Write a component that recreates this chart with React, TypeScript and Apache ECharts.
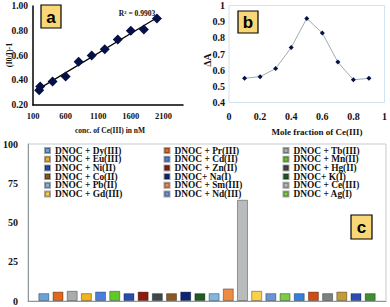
import React, { useEffect, useRef } from "react";
import * as echarts from "echarts";

// Panel a: calibration
const concNM = [195, 210, 400, 600, 800, 1000, 1200, 1400, 1600, 1800, 2000];
const intensityRatio = [0.32, 0.35, 0.39, 0.43, 0.55, 0.6, 0.65, 0.73, 0.8, 0.81, 0.9];
const rSquaredLabel = "R² = 0.9903";

// Panel b: Job's plot
const moleFraction = [0.1, 0.2, 0.3, 0.4, 0.5, 0.6, 0.7, 0.8, 0.9];
const deltaA = [0.55, 0.56, 0.61, 0.74, 0.92, 0.83, 0.65, 0.54, 0.55];

// Panel c: selectivity
const complexNames = [
  "DNOC + Dy(III)", "DNOC + Pr(III)", "DNOC + Tb(III)",
  "DNOC + Eu(III)", "DNOC + Cd(II)", "DNOC + Mn(II)",
  "DNOC + Ni(II)", "DNOC + Zn(II)", "DNOC + Hg(II)",
  "DNOC + Co(II)", "DNOC+ Na(I)", "DNOC+ K(I)",
  "DNOC + Pb(II)", "DNOC + Sm(III)", "DNOC + Ce(III)",
  "DNOC + Gd(III)", "DNOC + Nd(III)", "DNOC + Ag(I)",
];
const response = [5, 6, 6.5, 5, 6, 6.5, 5, 6, 5, 5, 6, 5, 5, 8, 64.5, 6.5, 5, 5, 5, 6, 5, 6, 5, 5];
const barColors = [
  "#67a3da", "#e2661e", "#a8acac", "#f0b41c", "#4a7fdc", "#62c828",
  "#2a4cb0", "#8e1c0c", "#404848", "#8a5a20", "#0e2474", "#1e5c22",
  "#80b6e6", "#ee8a42", "#b8bcbc", "#f8d04a", "#6a94d6", "#7ccc44",
  "#3280dc", "#d04a12", "#7a8282", "#c29a36", "#2c4cb4", "#3c9030",
];

const SERIF = "Liberation Serif, Times New Roman, serif";
const SANS = "Liberation Sans, Arial, sans-serif";

function fitLine(xs: number[], ys: number[]) {
  const n = xs.length;
  const mx = xs.reduce((a, b) => a + b, 0) / n;
  const my = ys.reduce((a, b) => a + b, 0) / n;
  let sxy = 0, sxx = 0;
  for (let i = 0; i < n; i++) {
    sxy += (xs[i] - mx) * (ys[i] - my);
    sxx += (xs[i] - mx) * (xs[i] - mx);
  }
  const k = sxy / sxx;
  const b = my - k * mx;
  const x0 = Math.min(...xs), x1 = Math.max(...xs);
  return [[x0, k * x0 + b], [x1, k * x1 + b]];
}

function letterBox(x: number, y: number, w: number, h: number, t: string) {
  return {
    type: "group",
    x, y,
    children: [
      { type: "rect", shape: { x: 0, y: 0, width: w, height: h }, style: { fill: "#fad776", stroke: "#000", lineWidth: 1.2 } },
      { type: "text", x: w / 2, y: h / 2 + 0.5, style: { text: t, fill: "#000", fontFamily: SANS, fontWeight: "bold", fontSize: 17, align: "center", verticalAlign: "middle" } },
    ],
  };
}

function label(text: string, x: number, y: number, size: number, rotate = false) {
  return {
    type: "text", x, y, rotation: rotate ? Math.PI / 2 : 0,
    style: { text, fill: "#111", fontFamily: SERIF, fontWeight: "bold", fontSize: size, align: "center", verticalAlign: "middle" },
  };
}

export default function App() {
  const ref = useRef<HTMLDivElement>(null);
  useEffect(() => {
    if (!ref.current) return;
    const chart = echarts.init(ref.current, null, { renderer: "svg" });
    const tickLabel = (size: number, margin: number) => ({
      fontFamily: SERIF, fontWeight: "bold", fontSize: size, color: "#111", margin,
    });
    const legendCol = (col: number, left: number) => ({
      orient: "vertical", left, top: 146, padding: 0,
      itemWidth: 5, itemHeight: 5, itemGap: -0.3, icon: "rect",
      textStyle: { fontFamily: SERIF, fontWeight: "bold", fontSize: 9.4, lineHeight: 8.8, height: 8.8, color: "#111" },
      data: complexNames.filter((_, i) => i % 3 === col),
    });
    const option: any = {
      animation: false,
      backgroundColor: "#fff",
      grid: [
        { left: 33, top: 6, width: 150, height: 99 },
        { left: 229, top: 5.5, width: 156, height: 97, show: true, borderColor: "#d2e2ee", borderWidth: 1 },
        { left: 27, top: 144, width: 359, height: 157, show: true, borderColor: "#c6cbcb", borderWidth: 1 },
      ],
      xAxis: [
        {
          type: "value", gridIndex: 0, min: 100, max: 2400, interval: 500,
          axisLine: { show: true, lineStyle: { color: "#000", width: 1.5 } },
          axisTick: { show: false }, splitLine: { show: false },
          axisLabel: { ...tickLabel(8.5, 6), showMaxLabel: false, formatter: (v: number) => String(v) },
        },
        {
          type: "value", gridIndex: 1, min: 0, max: 1, interval: 0.2,
          axisLine: { show: false }, axisTick: { show: false }, splitLine: { show: false },
          axisLabel: tickLabel(10, 9),
        },
        {
          type: "category", gridIndex: 2, data: [""],
          axisLine: { show: true, lineStyle: { color: "#8c9898", width: 1 } },
          axisTick: { show: false }, axisLabel: { show: false },
        },
      ],
      yAxis: [
        {
          type: "value", gridIndex: 0, min: 0.2, max: 1.0, interval: 0.2,
          axisLine: { show: true, lineStyle: { color: "#000", width: 1.5 } },
          axisTick: { show: false }, splitLine: { show: false },
          axisLabel: { ...tickLabel(9.5, 5), formatter: (v: number) => v.toFixed(2) },
        },
        {
          type: "value", gridIndex: 1, min: 0.4, max: 1, interval: 0.1,
          axisLine: { show: false }, axisTick: { show: false }, splitLine: { show: false },
          axisLabel: { ...tickLabel(10, 4), formatter: (v: number) => String(Math.round(v * 10) / 10) },
        },
        {
          type: "value", gridIndex: 2, min: 0, max: 100, interval: 25,
          axisLine: { show: true, lineStyle: { color: "#8c9898", width: 1 } },
          axisTick: { show: false }, splitLine: { show: false },
          axisLabel: tickLabel(10, 10),
        },
      ],
      legend: [legendCol(0, 44), legendCol(1, 163.5), legendCol(2, 282.5)],
      series: [
        {
          type: "line", xAxisIndex: 0, yAxisIndex: 0, data: fitLine(concNM, intensityRatio),
          symbol: "none", lineStyle: { color: "#000", width: 1.2 }, z: 2,
        },
        {
          type: "scatter", xAxisIndex: 0, yAxisIndex: 0,
          data: concNM.map((x, i) => [x, intensityRatio[i]]),
          symbol: "diamond", symbolSize: 10, itemStyle: { color: "#061048", opacity: 1 }, z: 3,
        },
        {
          type: "line", xAxisIndex: 1, yAxisIndex: 1,
          data: moleFraction.map((x, i) => [x, deltaA[i]]),
          symbol: "diamond", symbolSize: 5, itemStyle: { color: "#061048" },
          lineStyle: { color: "#9eacb6", width: 1 },
        },
        ...response.map((v, i) => ({
          type: "bar", name: complexNames[i] ?? "", xAxisIndex: 2, yAxisIndex: 2,
          data: [v], barWidth: 11, barGap: "29%",
          itemStyle: { color: barColors[i], borderColor: "rgba(0,0,0,0.35)", borderWidth: 1 },
        })),
      ],
      graphic: [
        letterBox(41, 5, 20, 23, "a"),
        letterBox(238, 11, 20, 22, "b"),
        letterBox(351, 215, 21, 24, "c"),
        label(rSquaredLabel, 137, 13, 7.5),
        label("(I0/I)-1", 9, 55, 8, true),
        label("conc. of Ce(III) in nM", 110, 130, 7.5),
        label("ΔA", 207, 60, 10, true),
        label("Mole fraction of Ce(III)", 317, 132, 9),
      ],
    };
    chart.setOption(option);
    return () => chart.dispose();
  }, []);
  return <div ref={ref} style={{ position: "fixed", left: 0, top: 0, width: 390, height: 307 }} />;
}
